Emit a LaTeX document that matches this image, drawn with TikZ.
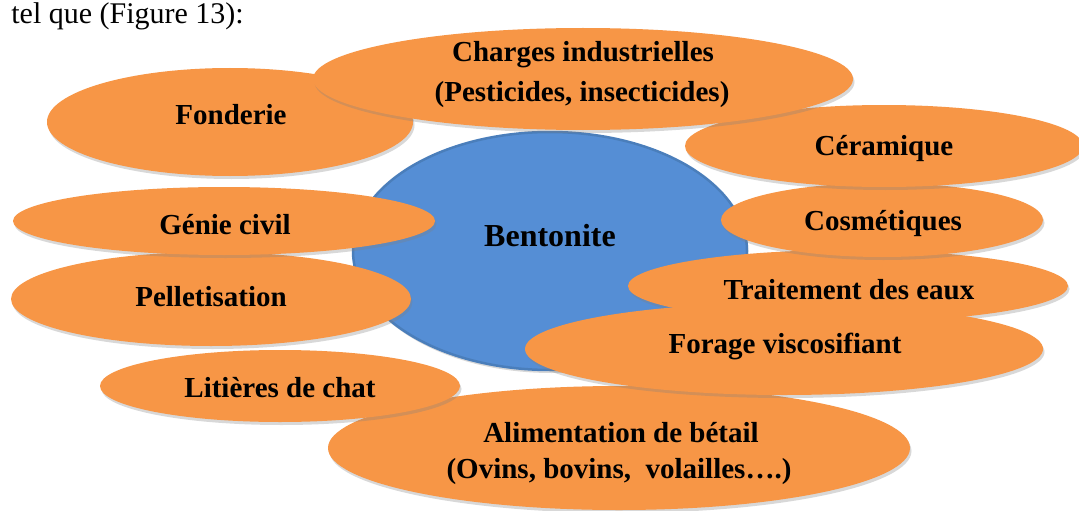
\documentclass[tikz,border=0pt]{standalone}
\usepackage{fontspec}
\setmainfont{Liberation Serif}
\usetikzlibrary{shapes.geometric,shadows}
\definecolor{org}{HTML}{F79646}
\definecolor{blu}{HTML}{558ED5}
\definecolor{bluline}{HTML}{4A7EBB}
\begin{document}
\begin{tikzpicture}[x=1pt,y=-1pt,
  shad/.style={drop shadow={opacity=0.3, shadow xshift=1.5pt, shadow yshift=-3pt}},
  blob/.style={ellipse, fill=org, draw=none, inner sep=0pt, shad},
  centre/.style={ellipse, fill=blu, draw=bluline, line width=2.5pt, inner sep=0pt, shad},
  lbl/.style={font=\fontsize{29}{34}\selectfont\bfseries, anchor=base, inner sep=0pt},
  intro/.style={font=\fontsize{30}{36}\selectfont, anchor=base east, inner sep=0pt}]
\useasboundingbox (0,0) rectangle (1079,511);
\fill[white] (0,0) rectangle (1079,511);

\node[intro] (intro) at (244,24) {tel que (Figure 13):};

\node[centre, minimum width=394pt, minimum height=238pt] (bent) at (550,251) {};
\node[lbl, font=\fontsize{32}{38}\selectfont\bfseries] (tbent) at (550,246) {Bentonite};

\node[blob, minimum width=582pt, minimum height=124pt] (alim) at (619,448) {};
\node[lbl] (talim1) at (621,442) {Alimentation de bétail};
\node[lbl] (talim2) at (619,478) {(Ovins, bovins,\ \ volailles….)};

\node[blob, minimum width=440pt, minimum height=72pt] (trait) at (848,286) {};
\node[lbl] (ttrait) at (849,299) {Traitement des eaux};

\node[blob, minimum width=518pt, minimum height=92pt] (forage) at (784,349) {};
\node[lbl] (tforage) at (785,353) {Forage viscosifiant};

\node[blob, minimum width=360pt, minimum height=72pt] (lit) at (280,386) {};
\node[lbl] (tlit) at (280,397) {Litières de chat};

\node[blob, minimum width=400pt, minimum height=94pt] (pell) at (211,299) {};
\node[lbl] (tpell) at (211,306) {Pelletisation};

\node[blob, minimum width=422pt, minimum height=68pt] (genie) at (224,221) {};
\node[lbl] (tgenie) at (225,234) {Génie civil};

\node[blob, minimum width=322pt, minimum height=74pt] (cosm) at (882,220) {};
\node[lbl] (tcosm) at (883,230) {Cosmétiques};

\node[blob, minimum width=398pt, minimum height=82pt] (cera) at (884,146) {};
\node[lbl] (tcera) at (884,155) {Céramique};

\node[blob, minimum width=366pt, minimum height=108pt] (fond) at (230,122) {};
\node[lbl] (tfond) at (231,124) {Fonderie};

\node[blob, minimum width=540pt, minimum height=102pt] (charg) at (583,79) {};
\node[lbl] (tcharg1) at (583,62) {Charges industrielles};
\node[lbl] (tcharg2) at (582,101) {(Pesticides, insecticides)};
\end{tikzpicture}
\end{document}
